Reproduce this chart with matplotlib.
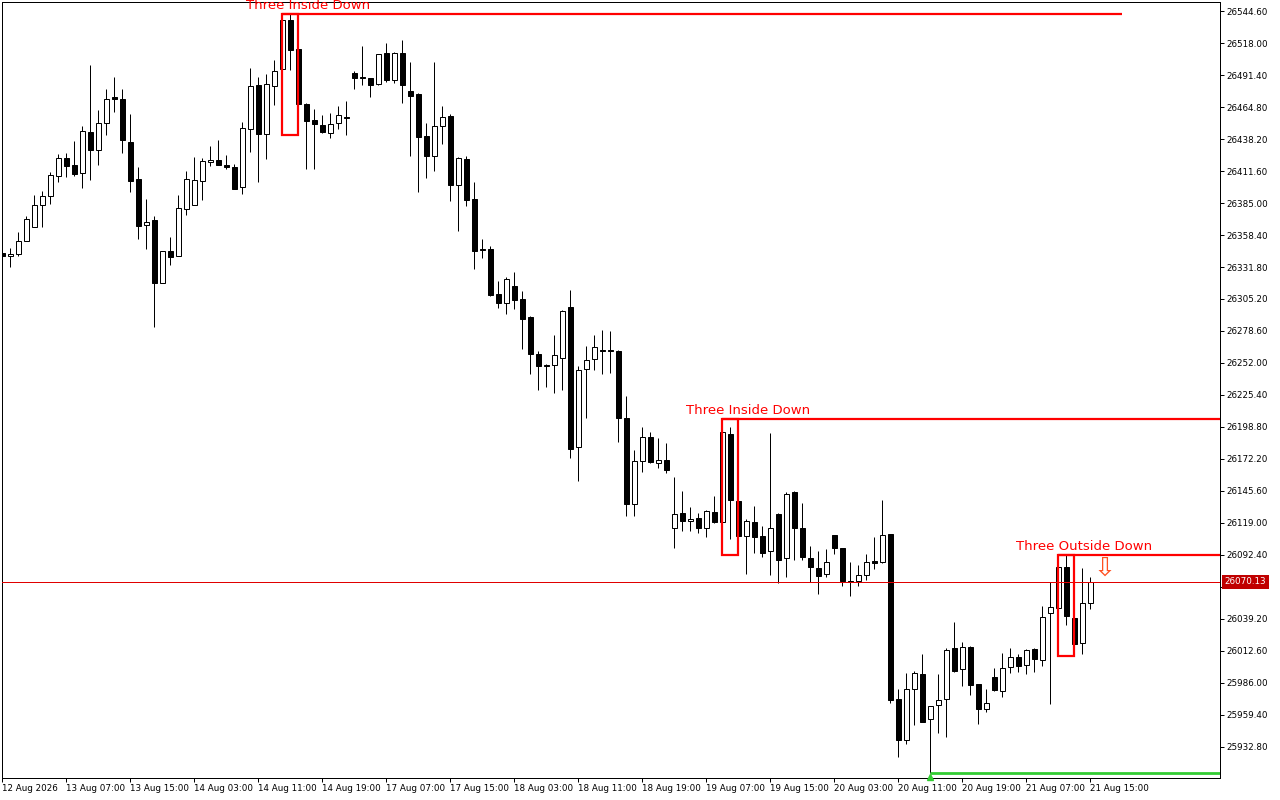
import matplotlib
matplotlib.use("Agg")
import matplotlib.pyplot as plt
from matplotlib.patches import Rectangle
from matplotlib.transforms import blended_transform_factory

# ---------------- data ----------------
opens = [26343.4, 26340.9, 26342.6, 26353.4, 26365.0, 26383.3, 26390.8, 26407.4, 26422.4, 26416.6,
         26409.9, 26444.0, 26429.1, 26451.5, 26473.1, 26471.5, 26435.7, 26405.0, 26366.7, 26370.9,
         26318.5, 26345.1, 26340.9, 26380.0, 26383.3, 26403.3, 26419.1, 26420.7, 26416.6, 26414.9,
         26398.3, 26446.5, 26483.1, 26442.4, 26482.3, 26496.4, 26537.1, 26513.0, 26467.3, 26454.0,
         26449.8, 26443.2, 26451.5, 26456.5, 26493.1, 26489.7, 26488.9, 26483.9, 26509.7, 26487.2,
         26509.7, 26478.1, 26475.6, 26440.7, 26424.1, 26449.0, 26457.3, 26400.0, 26421.6, 26388.3,
         26346.8, 26346.8, 26309.4, 26301.9, 26316.0, 26305.2, 26290.2, 26259.5, 26250.3, 26250.3,
         26256.2, 26298.6, 26182.2, 26247.0, 26255.3, 26262.8, 26262.8, 26262.0, 26206.3, 26134.8,
         26170.5, 26190.5, 26168.9, 26171.4, 26114.8, 26127.3, 26120.7, 26123.2, 26114.8, 26128.2,
         26119.8, 26193.0, 26137.3, 26108.2, 26119.8, 26108.2, 26095.7, 26126.5, 26089.9, 26144.8,
         26114.8, 26089.9, 26081.6, 26076.6, 26109.0, 26098.2, 26070.8, 26070.8, 26075.8, 26087.4,
         26086.6, 26109.9, 25972.7, 25938.6, 25981.0, 25993.5, 25956.1, 25967.7, 25972.7, 26015.1,
         25997.6, 26015.9, 25985.2, 25964.4, 25991.0, 25979.4, 25999.3, 26007.6, 26001.0, 26014.3,
         26005.1, 26044.2, 26048.3, 26082.4, 26040.0, 26019.3, 26052.5]
highs = [26344.3, 26347.6, 26360.9, 26374.2, 26391.6, 26395.0, 26410.8, 26425.7, 26426.6, 26436.5,
         26449.0, 26499.7, 26462.3, 26479.8, 26489.7, 26479.8, 26459.0, 26414.9, 26388.3, 26374.2,
         26345.1, 26356.7, 26391.6, 26411.6, 26423.2, 26422.4, 26432.4, 26437.4, 26424.9, 26417.4,
         26452.3, 26497.2, 26489.7, 26492.2, 26503.9, 26542.1, 26542.1, 26524.6, 26468.1, 26463.1,
         26458.2, 26459.8, 26465.6, 26469.8, 26494.7, 26515.5, 26488.9, 26508.9, 26518.0, 26510.5,
         26520.5, 26502.2, 26476.4, 26451.5, 26502.2, 26465.6, 26459.0, 26423.2, 26424.1, 26402.5,
         26355.1, 26349.3, 26320.2, 26323.5, 26327.6, 26311.9, 26291.1, 26262.0, 26251.2, 26275.3,
         26296.1, 26312.7, 26249.5, 26266.1, 26275.3, 26279.4, 26278.6, 26262.8, 26224.6, 26179.7,
         26198.8, 26194.6, 26189.7, 26185.5, 26157.2, 26145.6, 26132.3, 26127.3, 26129.8, 26141.4,
         26205.5, 26198.8, 26153.1, 26122.3, 26133.1, 26116.5, 26193.8, 26127.3, 26144.8, 26145.6,
         26135.6, 26099.9, 26095.7, 26097.4, 26109.0, 26098.2, 26086.6, 26084.1, 26093.2, 26107.4,
         26138.1, 26109.9, 25981.0, 25994.3, 25996.0, 26010.1, 25966.9, 25993.5, 26015.1, 26036.7,
         26020.1, 26016.7, 25985.2, 25981.0, 25998.5, 26010.9, 26015.1, 26010.1, 26014.3, 26015.1,
         26050.0, 26070.0, 26088.2, 26092.4, 26061.7, 26081.6, 26074.1]
lows = [26340.1, 26331.8, 26340.9, 26353.4, 26365.0, 26365.0, 26384.2, 26402.5, 26406.6, 26407.4,
        26397.5, 26404.1, 26416.6, 26441.5, 26460.7, 26426.6, 26394.2, 26355.1, 26346.8, 26281.9,
        26318.5, 26333.5, 26340.9, 26375.0, 26383.3, 26387.5, 26415.8, 26416.6, 26413.3, 26396.6,
        26392.5, 26427.4, 26402.5, 26421.6, 26466.5, 26469.8, 26495.6, 26441.5, 26413.3, 26413.3,
        26443.2, 26439.0, 26446.5, 26441.5, 26479.8, 26483.1, 26473.1, 26483.1, 26485.6, 26484.8,
        26468.1, 26424.1, 26394.2, 26405.8, 26411.6, 26434.0, 26386.7, 26361.7, 26382.5, 26330.1,
        26339.3, 26307.7, 26297.7, 26292.7, 26296.9, 26263.6, 26242.9, 26229.6, 26232.1, 26227.1,
        26229.6, 26173.0, 26153.9, 26206.3, 26246.2, 26242.9, 26243.7, 26186.3, 26124.8, 26124.8,
        26161.4, 26168.9, 26164.7, 26160.6, 26098.2, 26112.4, 26112.4, 26110.7, 26107.4, 26119.0,
        26119.0, 26105.7, 26092.4, 26076.6, 26094.1, 26090.7, 26075.8, 26069.1, 26074.1, 26088.2,
        26088.2, 26070.0, 26060.0, 26074.1, 26093.2, 26066.6, 26058.3, 26066.6, 26071.6, 26080.8,
        26085.8, 25969.4, 25924.5, 25935.3, 25951.1, 25953.6, 25911.2, 25944.4, 25941.1, 25995.2,
        25983.5, 25976.0, 25951.9, 25961.9, 25979.4, 25974.4, 25994.3, 25995.2, 25993.5, 25995.2,
        26000.1, 25968.5, 26024.2, 26034.2, 26008.4, 26010.1, 26047.5]
closes = [26340.9, 26342.6, 26353.4, 26371.7, 26383.3, 26390.8, 26408.3, 26422.4, 26415.8, 26409.1,
          26444.9, 26429.1, 26451.5, 26471.5, 26471.5, 26437.4, 26403.3, 26365.9, 26369.2, 26318.5,
          26345.1, 26340.1, 26380.8, 26405.0, 26404.1, 26419.9, 26420.7, 26416.6, 26414.9, 26396.6,
          26447.3, 26482.3, 26442.4, 26483.9, 26494.7, 26537.1, 26512.2, 26467.3, 26453.2, 26450.7,
          26444.0, 26450.7, 26458.2, 26455.7, 26488.9, 26489.3, 26483.1, 26508.9, 26487.2, 26509.7,
          26483.1, 26473.9, 26439.9, 26424.1, 26449.0, 26456.5, 26400.0, 26422.4, 26387.5, 26345.1,
          26345.9, 26308.5, 26301.9, 26321.8, 26304.4, 26288.6, 26259.5, 26249.5, 26249.5, 26258.7,
          26295.2, 26180.5, 26246.2, 26254.5, 26265.3, 26262.0, 26262.0, 26206.3, 26134.8, 26170.5,
          26190.5, 26169.7, 26171.4, 26163.1, 26126.5, 26120.7, 26122.3, 26114.8, 26129.0, 26119.8,
          26194.6, 26138.1, 26108.2, 26120.7, 26107.4, 26094.1, 26114.8, 26088.2, 26143.1, 26114.8,
          26090.7, 26082.4, 26074.9, 26086.6, 26098.2, 26070.8, 26070.0, 26075.8, 26086.6, 26085.8,
          26109.0, 25971.9, 25938.6, 25981.0, 25994.3, 25953.6, 25966.9, 25971.9, 26013.4, 25996.0,
          26015.9, 25984.3, 25964.4, 25969.4, 25980.2, 25998.5, 26007.6, 26000.1, 26013.4, 26006.0,
          26040.9, 26049.2, 26082.4, 26041.7, 26018.4, 26052.5, 26070.13]

time_labels = ["12 Aug 2026", "13 Aug 07:00", "13 Aug 15:00", "14 Aug 03:00", "14 Aug 11:00",
               "14 Aug 19:00", "17 Aug 07:00", "17 Aug 15:00", "18 Aug 03:00", "18 Aug 11:00",
               "18 Aug 19:00", "19 Aug 07:00", "19 Aug 15:00", "20 Aug 03:00", "20 Aug 11:00",
               "20 Aug 19:00", "21 Aug 07:00", "21 Aug 15:00"]
price_ticks = [25932.80, 25959.40, 25986.00, 26012.60, 26039.20, 26065.80, 26092.40, 26119.00,
               26145.60, 26172.20, 26198.80, 26225.40, 26252.00, 26278.60, 26305.20, 26331.80,
               26358.40, 26385.00, 26411.60, 26438.20, 26464.80, 26491.40, 26518.00, 26544.60]

# candlestick patterns: name, first bar, last bar, bar where the level line ends (None = edge)
pattern_names = ["Three Inside Down", "Three Inside Down", "Three Outside Down"]
pattern_start = [35, 90, 132]
pattern_end = [37, 92, 134]
pattern_line_end = [140, None, None]

current_price = 26070.13
support_bar = 116
support_level = 25911.2

# ---------------- figure ----------------
W, H = 1280, 800
fig = plt.figure(figsize=(W / 100, H / 100), dpi=100)
ax = fig.add_axes([2 / W, 22 / H, 1218 / W, 776 / H])
fig.patch.set_facecolor("white")
ax.set_facecolor("white")

n = len(closes)
xs = list(range(n))
x_max = 152.21
ax.set_xlim(-0.04, x_max)
ax.set_ylim(25907.0, 26552.1)

px = 0.72  # one pixel in points
# wicks
ax.vlines(xs, lows, highs, colors="black", linewidth=px, zorder=2)
# bodies
bottoms = [min(o, c) for o, c in zip(opens, closes)]
heights = [max(abs(c - o), 0.5) for o, c in zip(opens, closes)]
fills = ["white" if c > o else "black" for o, c in zip(opens, closes)]
ax.bar(xs, heights, bottom=bottoms, width=0.58, color=fills, edgecolor="black",
       linewidth=px, zorder=3)

# current price line
ax.axhline(current_price, color="#E00000", linewidth=px, zorder=4)

# pattern boxes and level lines
for name, a, b, e in zip(pattern_names, pattern_start, pattern_end, pattern_line_end):
    top = max(highs[a:b + 1])
    bot = min(lows[a:b + 1])
    ax.add_patch(Rectangle((a, bot), b - a, top - bot, fill=False, edgecolor="#FF0000",
                           linewidth=1.6, zorder=5))
    end = e if e is not None else x_max
    ax.plot([a, end], [top, top], color="#FF0000", linewidth=1.6, zorder=5,
            solid_capstyle="butt")
    ax.text(a + 3.25, top + 2.0, name, color="#FF0000", fontsize=9.5, ha="center",
            va="bottom", zorder=6, clip_on=False)

# signal arrow after the last bar
ax.text(n + 0.8, current_price + 11.0, "\u21e9", color="#FF5020", fontsize=19,
        ha="center", va="center", zorder=6, family=["DejaVu Sans"])

# support line (green)
ax.plot([support_bar, x_max], [support_level, support_level], color="#32CD32",
        linewidth=2.0, zorder=5, solid_capstyle="butt")
ax.plot([support_bar], [support_level - 3.2], marker="^", color="#32CD32",
        markersize=5, zorder=6, clip_on=False)

# axes styling
for s in ax.spines.values():
    s.set_linewidth(px)
    s.set_color("black")

ax.yaxis.tick_right()
ax.set_yticks(price_ticks)
# the 26065.80 label sits under the current-price tag, as in the reference
ax.set_yticklabels(["" if abs(v - current_price) < 8 else f"{v:.2f}" for v in price_ticks])
ax.tick_params(axis="y", direction="out", length=3, width=px, pad=1.5,
               labelsize=6.3, colors="black")

tick_pos = [8 * i for i in range(len(time_labels))]
ax.set_xticks(tick_pos)
ax.set_xticklabels(time_labels, ha="left")
ax.tick_params(axis="x", direction="out", length=3, width=px, pad=1.5,
               labelsize=6.3, colors="black")

# current price tag on the axis
trans = blended_transform_factory(ax.transAxes, ax.transData)
ax.annotate(f"{current_price:.2f}", xy=(1.0, current_price), xycoords=trans,
            xytext=(3.4, 0), textcoords="offset points", ha="left", va="center",
            fontsize=6.3, color="white", zorder=10, annotation_clip=False,
            bbox=dict(boxstyle="square,pad=0.3", fc="#C00000", ec="none"))

fig.savefig("out.png", dpi=100, facecolor="white")
